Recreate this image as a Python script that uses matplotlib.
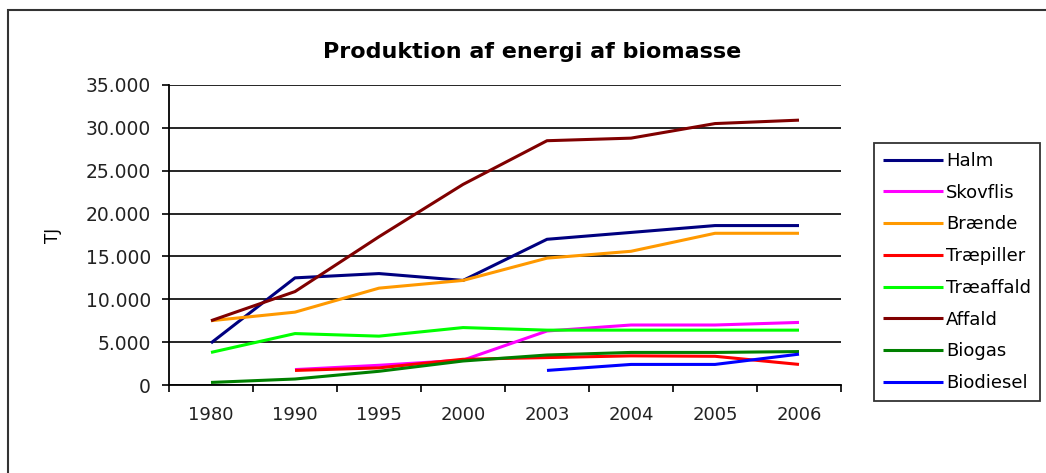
import matplotlib
matplotlib.use("Agg")
import matplotlib.pyplot as plt
import numpy as np
from matplotlib.patches import Rectangle
from matplotlib.ticker import FuncFormatter, FixedLocator

# Produktion af energi af biomasse, TJ
years = ["1980", "1990", "1995", "2000", "2003", "2004", "2005", "2006"]
nan = np.nan

halm = [4900, 12500, 13000, 12200, 17000, 17800, 18600, 18600]
skovflis = [nan, 1800, 2300, 2900, 6300, 7000, 7000, 7300]
braende = [7500, 8500, 11300, 12200, 14800, 15600, 17700, 17700]
traepiller = [nan, 1700, 2000, 3000, 3200, 3400, 3350, 2400]
traeaffald = [3800, 6000, 5700, 6700, 6400, 6400, 6400, 6400]
affald = [7500, 10900, 17300, 23400, 28500, 28800, 30500, 30900]
biogas = [300, 700, 1600, 2800, 3500, 3800, 3800, 3900]
biodiesel = [nan, nan, nan, nan, 1700, 2400, 2400, 3600]

series = [
    ("Halm", halm, "#000080"),
    ("Skovflis", skovflis, "#FF00FF"),
    ("Brænde", braende, "#FF9900"),
    ("Træpiller", traepiller, "#FF0000"),
    ("Træaffald", traeaffald, "#00FF00"),
    ("Affald", affald, "#800000"),
    ("Biogas", biogas, "#008000"),
    ("Biodiesel", biodiesel, "#0000FF"),
]

plt.rcParams["font.family"] = "DejaVu Sans"

W, H = 1046, 473
fig = plt.figure(figsize=(W / 100, H / 100), dpi=100)

# chart area frame (runs off the right and bottom edges)
fig.add_artist(Rectangle((8 / W, -0.1), 1.2, 1 - 10 / H + 0.1,
                         transform=fig.transFigure, fill=False,
                         edgecolor="#333333", linewidth=1.5))

ax = fig.add_axes([169 / W, 1 - 385 / H, 672 / W, 300 / H])

x = np.arange(len(years))
for name, vals, col in series:
    ax.plot(x, vals, color=col, linewidth=2.2, label=name, solid_capstyle="butt")

ax.set_xlim(-0.5, len(years) - 0.5)
ax.set_ylim(0, 35000)
ax.set_yticks(np.arange(0, 35001, 5000))
ax.yaxis.set_major_formatter(FuncFormatter(lambda v, p: f"{int(v):,}".replace(",", ".")))
ax.grid(axis="y", color="black", linewidth=1.2)
ax.set_axisbelow(True)

ax.set_xticks(x)
ax.set_xticklabels(years)
ax.xaxis.set_minor_locator(FixedLocator(np.arange(-0.5, len(years), 1.0)))
ax.tick_params(axis="x", which="major", length=0, pad=15, labelsize=13)
ax.tick_params(axis="x", which="minor", length=5, width=1.2, direction="out")
ax.tick_params(axis="y", length=5, width=1.2, direction="out", pad=8, labelsize=13.5,
               labelcolor="#222222")
ax.tick_params(axis="x", labelcolor="#222222")

for s in ["top", "right"]:
    ax.spines[s].set_visible(False)
for s in ["left", "bottom"]:
    ax.spines[s].set_linewidth(1.3)

ax.set_ylabel("TJ", fontsize=12, labelpad=17)

fig.text(532 / W, 1 - 52 / H, "Produktion af energi af biomasse",
         ha="center", va="center", fontsize=16, fontweight="bold")

leg = fig.legend(loc="upper left", bbox_to_anchor=(874 / W, 1 - 143 / H),
                 frameon=True, fancybox=False, edgecolor="black", fontsize=13,
                 handlelength=3.3, handletextpad=0.2, labelspacing=0.76,
                 borderpad=0.5, borderaxespad=0)
leg.get_frame().set_linewidth(1.3)

fig.savefig("out.png", dpi=100)
